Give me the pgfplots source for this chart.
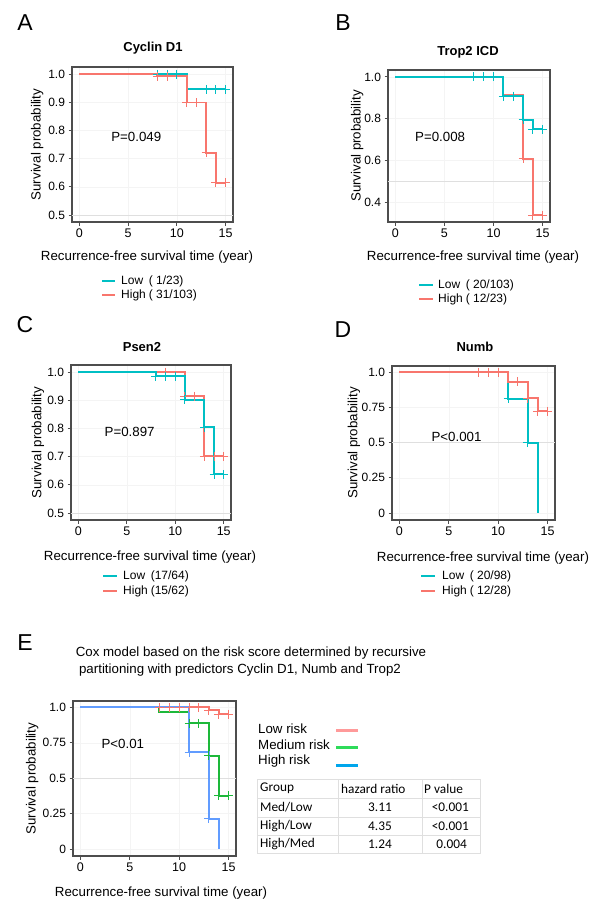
\documentclass[border=0pt]{standalone}
\usepackage{fontspec}
\setmainfont{Liberation Sans}
\newfontfamily\calibri{Carlito}
\usepackage{pgfplots}
\pgfplotsset{compat=1.18}

\definecolor{kmred}{HTML}{F8766D}
\definecolor{kmcyan}{HTML}{00BFC4}
\definecolor{kmgreen}{HTML}{1DB83A}
\definecolor{kmblue}{HTML}{619CFF}
\definecolor{frm}{HTML}{4D4D4D}
\definecolor{lgred}{HTML}{FF9A9A}
\definecolor{lggreen}{HTML}{2EDB5A}
\definecolor{lgblue}{HTML}{00A6EC}

\newcommand\fs[1]{\fontsize{#1}{#1}\selectfont}

\pgfplotsset{
  km/.style={scale only axis, clip=false, anchor=south west,
    axis line style={frm, line width=1.1pt},
    tick style={frm, line width=0.8pt}, major tick length=3.5pt, tick align=outside,
    xtick pos=left, ytick pos=left, xtick={0,5,10,15},
    xmin=-0.75, xmax=15.75,
    grid=major, major grid style={gray!9, line width=0.5pt},
    extra y ticks={0.5}, extra y tick labels={},
    extra y tick style={major tick length=0pt, major grid style={gray!25, line width=0.7pt}},
    /pgf/number format/assume math mode=true,
    xticklabel style={font=\fs{12.5}},
    yticklabel style={font=\fs{12}},
    xlabel={Recurrence-free survival time (year)},
    ylabel={Survival probability},
    label style={font=\fs{13.3}},
    xlabel style={anchor=center},
    ylabel style={anchor=center},
  },
  curve/.style={const plot, line width=1.9pt, no marks},
  cens/.style={only marks, mark=+, mark size=4.5pt, mark options={line width=1pt}},
}

\begin{document}
\begin{tikzpicture}
\path[use as bounding box] (0,0) rectangle (601pt,-911pt);

% ---------- A
\node[font=\fs{23}] at (25pt,-23pt) {A};
\node[font=\bfseries\fs{13}] at (153pt,-48pt) {Cyclin D1};
\begin{axis}[km, at={(72pt,-222pt)}, width=161pt, height=155pt,
  ymin=0.475, ymax=1.025, ytick={0.5,0.6,0.7,0.8,0.9,1.0},
  yticklabels={0.5,0.6,0.7,0.8,0.9,1.0},
  xlabel style={at={(axis description cs:0.466,-0.226)}},
  ylabel style={at={(axis description cs:-0.217,0.5)}}]
\addplot[curve, kmcyan] coordinates {(0,1)(11,0.946)(15,0.946)};
\addplot[cens, kmcyan] coordinates {(8,1)(9,1)(10,1)(13,0.946)(14,0.946)(15,0.946)};
\addplot[curve, kmred] coordinates {(0,1)(8,0.993)(11,0.899)(13,0.721)(14,0.615)(15,0.615)};
\addplot[cens, kmred] coordinates {(8,0.993)(9,0.993)(11,0.899)(12,0.899)(13,0.721)(14,0.615)(15,0.615)};
\node[font=\fs{13.3}] at (axis cs:5.84,0.778) {P=0.049};
\end{axis}
\draw[kmcyan, line width=2.7pt] (102pt,-281pt) -- (115pt,-281pt);
\draw[kmred, line width=2.7pt] (102pt,-295pt) -- (115pt,-295pt);
\node[font=\fs{12}, anchor=west, inner sep=0pt] at (121pt,-281pt) {\makebox[2.3em][l]{Low}( 1/23)};
\node[font=\fs{12}, anchor=west, inner sep=0pt] at (121pt,-295pt) {\makebox[2.3em][l]{High}( 31/103)};

% ---------- B
\node[font=\fs{23}] at (343pt,-23pt) {B};
\node[font=\bfseries\fs{13}] at (468pt,-52pt) {Trop2 ICD};
\begin{axis}[km, at={(388pt,-222pt)}, width=162pt, height=152pt,
  ymin=0.304, ymax=1.033, ytick={0.4,0.6,0.8,1.0},
  yticklabels={0.4,0.6,0.8,1.0},
  xlabel style={at={(axis description cs:0.525,-0.23)}},
  ylabel style={at={(axis description cs:-0.191,0.5)}}]
\addplot[curve, kmred] coordinates {(0,1)(11,0.913)(13,0.608)(14,0.337)(15,0.337)};
\addplot[cens, kmred] coordinates {(13,0.608)(14,0.337)(15,0.337)};
\addplot[curve, kmcyan] coordinates {(0,1)(11,0.908)(13,0.794)(14,0.748)(15,0.748)};
\addplot[cens, kmcyan] coordinates {(8,1)(9,1)(10,1)(11,0.908)(12,0.908)(13,0.794)(14,0.748)(15,0.748)};
\node[font=\fs{13.3}] at (axis cs:4.56,0.71) {P=0.008};
\end{axis}
\draw[kmcyan, line width=2.7pt] (419pt,-285pt) -- (433pt,-285pt);
\draw[kmred, line width=2.7pt] (419pt,-299pt) -- (433pt,-299pt);
\node[font=\fs{12}, anchor=west, inner sep=0pt] at (438pt,-285pt) {\makebox[2.3em][l]{Low}( 20/103)};
\node[font=\fs{12}, anchor=west, inner sep=0pt] at (438pt,-299pt) {\makebox[2.3em][l]{High}( 12/23)};

% ---------- C
\node[font=\fs{23}] at (25pt,-325pt) {C};
\node[font=\bfseries\fs{13}] at (142pt,-347pt) {Psen2};
\begin{axis}[km, at={(71pt,-520pt)}, width=160pt, height=155pt,
  ymin=0.475, ymax=1.025, ytick={0.5,0.6,0.7,0.8,0.9,1.0},
  yticklabels={0.5,0.6,0.7,0.8,0.9,1.0},
  xlabel style={at={(axis description cs:0.494,-0.239)}},
  ylabel style={at={(axis description cs:-0.206,0.5)}}]
\addplot[curve, kmred] coordinates {(0,1)(11,0.914)(13,0.701)(15,0.701)};
\addplot[cens, kmred] coordinates {(9,1)(11,0.914)(12,0.914)(13,0.701)(14,0.701)(15,0.701)};
\addplot[curve, kmcyan] coordinates {(0,1)(8,0.985)(11,0.902)(13,0.805)(14,0.637)(15,0.637)};
\addplot[cens, kmcyan] coordinates {(8,0.985)(9,0.985)(10,0.985)(11,0.902)(13,0.805)(14,0.637)(15,0.637)};
\node[font=\fs{13.3}] at (axis cs:5.3,0.787) {P=0.897};
\end{axis}
\draw[kmcyan, line width=2.7pt] (103pt,-576pt) -- (117pt,-576pt);
\draw[kmred, line width=2.7pt] (103pt,-591pt) -- (117pt,-591pt);
\node[font=\fs{12}, anchor=west, inner sep=0pt] at (123pt,-576pt) {\makebox[2.3em][l]{Low}(17/64)};
\node[font=\fs{12}, anchor=west, inner sep=0pt] at (123pt,-591pt) {\makebox[2.3em][l]{High}(15/62)};

% ---------- D
\node[font=\fs{23}] at (343pt,-330pt) {D};
\node[font=\bfseries\fs{13}] at (475pt,-347pt) {Numb};
\begin{axis}[km, at={(392pt,-520pt)}, width=163pt, height=154pt,
  ymin=-0.05, ymax=1.045, ytick={0,0.25,0.5,0.75,1.0},
  yticklabels={0,0.25,0.5,0.75,1.0},
  xlabel style={at={(axis description cs:0.558,-0.247)}},
  ylabel style={at={(axis description cs:-0.233,0.5)}}]
\addplot[curve, kmcyan] coordinates {(0,1)(11,0.811)(13,0.499)(14,0)};
\addplot[cens, kmcyan] coordinates {(8,1)(11,0.811)(13,0.499)};
\addplot[curve, kmred] coordinates {(0,1)(11,0.934)(13,0.816)(14,0.723)(15,0.723)};
\addplot[cens, kmred] coordinates {(8,1)(9,1)(10,1)(12,0.934)(13,0.816)(14,0.723)(15,0.723)};
\node[font=\fs{13.3}] at (axis cs:5.78,0.539) {P<0.001};
\end{axis}
\draw[kmcyan, line width=2.7pt] (421pt,-576pt) -- (435pt,-576pt);
\draw[kmred, line width=2.7pt] (421pt,-591pt) -- (435pt,-591pt);
\node[font=\fs{12}, anchor=west, inner sep=0pt] at (442pt,-576pt) {\makebox[2.3em][l]{Low}( 20/98)};
\node[font=\fs{12}, anchor=west, inner sep=0pt] at (442pt,-591pt) {\makebox[2.3em][l]{High}( 12/28)};

% ---------- E
\node[font=\fs{23}] at (25pt,-643pt) {E};
\node[font=\fs{13.3}] at (251pt,-653pt) {Cox model based on the risk score determined by recursive};
\node[font=\fs{13.3}] at (240pt,-670pt) {partitioning with predictors Cyclin D1, Numb and Trop2};
\begin{axis}[km, at={(73pt,-856pt)}, width=163pt, height=155pt,
  ymin=-0.05, ymax=1.045, ytick={0,0.25,0.5,0.75,1.0},
  yticklabels={0,0.25,0.5,0.75,1.0},
  xlabel style={at={(axis description cs:0.54,-0.239)}},
  ylabel style={at={(axis description cs:-0.25,0.5)}}]
\addplot[curve, kmred] coordinates {(0,1)(13,0.981)(14,0.953)(15,0.953)};
\addplot[cens, kmred] coordinates {(8,1)(9,1)(10,1)(11,1)(12,1)(13,0.981)(14,0.953)(15,0.953)};
\addplot[curve, kmgreen] coordinates {(0,1)(8,0.965)(11,0.887)(13,0.657)(14,0.376)(15,0.376)};
\addplot[cens, kmgreen] coordinates {(11,0.887)(12,0.887)(13,0.657)(14,0.376)(15,0.376)};
\addplot[curve, kmblue] coordinates {(0,1)(11,0.683)(13,0.214)(14,0)};
\addplot[cens, kmblue] coordinates {(11,0.683)(13,0.214)};
\node[font=\fs{13.3}] at (axis cs:4.29,0.739) {P<0.01};
\end{axis}
% legend E
\node[font=\fs{13.3}, anchor=west, inner sep=0pt] at (258pt,-729pt) {Low risk};
\node[font=\fs{13.3}, anchor=west, inner sep=0pt] at (258pt,-745pt) {Medium risk};
\node[font=\fs{13.3}, anchor=west, inner sep=0pt] at (258pt,-761pt) {High risk};
\draw[lgred, line width=3pt] (336pt,-730pt) -- (358pt,-730pt);
\draw[lggreen, line width=3pt] (336pt,-747pt) -- (358pt,-747pt);
\draw[lgblue, line width=3pt] (336pt,-765pt) -- (358pt,-765pt);
% table E
\begin{scope}[gray!25, line width=0.7pt]
\draw (257pt,-779pt) rectangle (480pt,-853pt);
\draw (257pt,-798pt) -- (480pt,-798pt);
\draw (257pt,-817pt) -- (480pt,-817pt);
\draw (257pt,-835pt) -- (480pt,-835pt);
\draw (338pt,-779pt) -- (338pt,-853pt);
\draw (422pt,-779pt) -- (422pt,-853pt);
\end{scope}
\begin{scope}[every node/.style={font=\calibri\fs{13.3}, inner sep=0pt}]
\node[anchor=west] at (260pt,-788.5pt) {Group};
\node[anchor=west] at (260pt,-807.5pt) {Med/Low};
\node[anchor=west] at (260pt,-826pt) {High/Low};
\node[anchor=west] at (260pt,-844pt) {High/Med};
\node[anchor=west] at (341pt,-788.5pt) {hazard ratio};
\node at (380pt,-807.5pt) {3.11};
\node at (380pt,-826pt) {4.35};
\node at (380pt,-844pt) {1.24};
\node[anchor=west] at (424pt,-788.5pt) {P value};
\node[anchor=east] at (469pt,-807.5pt) {<0.001};
\node[anchor=east] at (469pt,-826pt) {<0.001};
\node[anchor=east] at (467pt,-844pt) {0.004};
\end{scope}
\end{tikzpicture}
\end{document}
